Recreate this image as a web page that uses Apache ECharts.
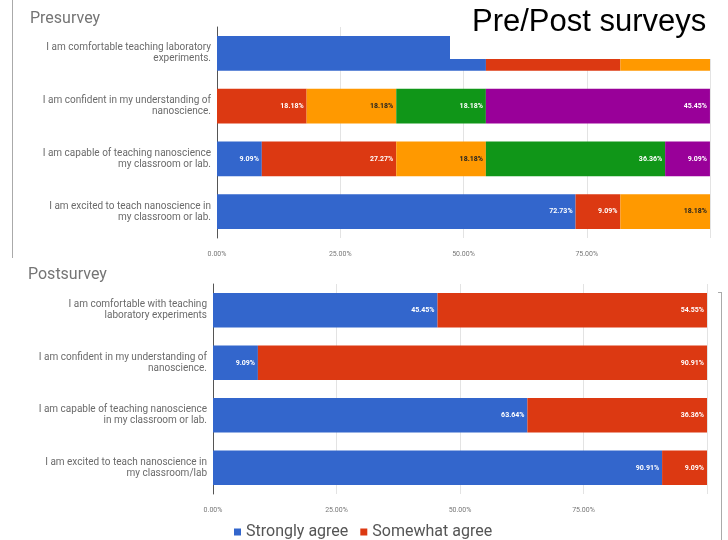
<!DOCTYPE html>
<html>
<head>
<meta charset="utf-8">
<script src="https://cdn.jsdelivr.net/npm/echarts@6/dist/echarts.min.js"></script>
<style>
  html, body { margin: 0; padding: 0; background: #fff; }
  #chart { width: 728px; height: 540px; }
</style>
</head>
<body>
<div id="chart"></div>
<script>
// questions, top row first
var preCategories = [
  'I am comfortable teaching laboratory\nexperiments.',
  'I am confident in my understanding of\nnanoscience.',
  'I am capable of teaching nanoscience\nmy classroom or lab.',
  'I am excited to teach nanoscience in\nmy classroom or lab.'
];
var postCategories = [
  'I am comfortable with teaching\nlaboratory experiments',
  'I am confident in my understanding of\nnanoscience.',
  'I am capable of teaching nanoscience\nin my classroom or lab.',
  'I am excited to teach nanoscience in\nmy classroom/lab'
];
var answerNames = ['Strongly agree', 'Somewhat agree', 'Neutral', 'Somewhat disagree', 'Strongly disagree'];

// percent of answers
var preStronglyAgree    = [54.55, 0, 9.09, 72.73];
var preSomewhatAgree    = [27.27, 18.18, 27.27, 9.09];
var preNeutral          = [18.18, 18.18, 18.18, 18.18];
var preSomewhatDisagree = [0, 18.18, 36.36, 0];
var preStronglyDisagree = [0, 45.45, 9.09, 0];

var postStronglyAgree = [45.45, 9.09, 63.64, 90.91];
var postSomewhatAgree = [54.55, 90.91, 36.36, 9.09];

var tickLabels = ['0.00%', '25.00%', '50.00%', '75.00%'];

var colors = ['#3366cc', '#dc3912', '#ff9900', '#109618', '#990099'];
var labelColors = ['#fff', '#fff', '#222', '#fff', '#fff'];

var chart = echarts.init(document.getElementById('chart'));

function xAxisFor(gridIndex) {
  return {
    type: 'value', gridIndex: gridIndex, min: 0, max: 100, interval: 25,
    axisLine: { show: false }, axisTick: { show: false },
    splitLine: { lineStyle: { color: '#e3e3e3' } },
    axisLabel: {
      fontSize: 7, color: '#777', fontFamily: 'Roboto', margin: 13,
      formatter: function (v) { return tickLabels[v / 25] || ''; }
    }
  };
}
function yAxisFor(gridIndex, cats) {
  return {
    type: 'category', gridIndex: gridIndex, data: cats, inverse: true,
    axisLine: { lineStyle: { color: '#555' } }, axisTick: { show: false },
    axisLabel: { fontSize: 10, lineHeight: 11, color: '#6b6b6b', fontFamily: 'Roboto', margin: 6, align: 'right' }
  };
}
function barSeries(i, values, idx, stack) {
  return {
    name: answerNames[i], type: 'bar', stack: stack, data: values,
    xAxisIndex: idx, yAxisIndex: idx, barCategoryGap: '34%',
    itemStyle: { color: colors[i] },
    label: {
      show: true, position: 'insideRight', distance: 3,
      fontSize: 7, fontWeight: 'bold', fontFamily: 'Roboto', color: labelColors[i],
      formatter: function (p) { return p.value > 0 ? p.value.toFixed(2) + '%' : ''; }
    }
  };
}

var preValues = [preStronglyAgree, preSomewhatAgree, preNeutral, preSomewhatDisagree, preStronglyDisagree];
var series = preValues.map(function (v, i) { return barSeries(i, v, 0, 'pre'); });
series.push(barSeries(0, postStronglyAgree, 1, 'post'));
series.push(barSeries(1, postSomewhatAgree, 1, 'post'));

var option = {
  animation: false,
  backgroundColor: '#fff',
  title: [
    { text: 'Presurvey', left: 25, top: 6, textStyle: { fontSize: 16, fontWeight: 'normal', color: '#757575', fontFamily: 'Roboto' } },
    { text: 'Postsurvey', left: 23, top: 262, textStyle: { fontSize: 16, fontWeight: 'normal', color: '#757575', fontFamily: 'Roboto' } }
  ],
  legend: {
    data: ['Strongly agree', 'Somewhat agree'],
    left: 229, top: 519, icon: 'rect', itemWidth: 7, itemHeight: 7, itemGap: 12,
    textStyle: { fontSize: 16, color: '#555', fontFamily: 'Roboto' }
  },
  grid: [
    { left: 217, right: 18, top: 27, height: 211 },
    { left: 213, right: 21, top: 284, height: 210 }
  ],
  xAxis: [xAxisFor(0), xAxisFor(1)],
  yAxis: [yAxisFor(0, preCategories), yAxisFor(1, postCategories)],
  series: series,
  graphic: [
    { type: 'line', shape: { x1: 12.5, y1: 0, x2: 12.5, y2: 258 }, style: { stroke: '#aaa', lineWidth: 1 }, z: 50 },
    { type: 'line', shape: { x1: 721.5, y1: 292, x2: 721.5, y2: 540 }, style: { stroke: '#aaa', lineWidth: 1 }, z: 50 },
    { type: 'line', shape: { x1: 718, y1: 292.5, x2: 721.5, y2: 292.5 }, style: { stroke: '#aaa', lineWidth: 1 }, z: 50 },
    { type: 'rect', shape: { x: 450, y: 0, width: 278, height: 59 }, style: { fill: '#fff' }, z: 100 },
    { type: 'text', x: 472, y: 22, z: 101,
      style: { text: 'Pre/Post surveys', fontSize: 31, fontFamily: 'Liberation Sans', fill: '#000', verticalAlign: 'middle' } }
  ]
};
chart.setOption(option);
</script>
</body>
</html>
